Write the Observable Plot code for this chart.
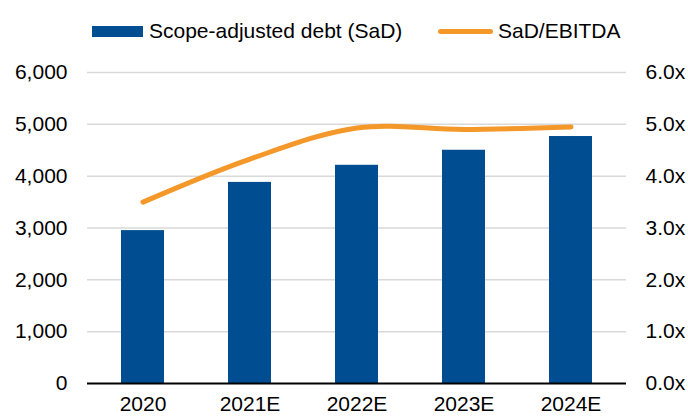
<!DOCTYPE html>
<html>
<head>
<meta charset="utf-8">
<script src="https://cdn.jsdelivr.net/npm/d3@7"></script>
<script src="https://cdn.jsdelivr.net/npm/@observablehq/plot@0.6"></script>
<style>
  body { margin: 0; background: #fff; font-family: "Liberation Sans", Arial, sans-serif; }
  #wrap { width: 688px; height: 416px; overflow: hidden; }
  #legend { position: relative; height: 52px; font-size: 21px; color: #000; }
  .sw { position: absolute; }
  .lab { position: absolute; top: 19px; line-height: 24px; white-space: nowrap; }
</style>
</head>
<body>
<div id="wrap">
  <div id="legend">
    <div class="sw" style="left:92px; top:26px; width:51px; height:11px; background:#004e91;"></div>
    <div class="lab" style="left:149px;">Scope-adjusted debt (SaD)</div>
    <div class="sw" style="left:438px; top:29px; width:55px; height:5px; border-radius:3px; background:#f4982a;"></div>
    <div class="lab" style="left:498px;">SaD/EBITDA</div>
  </div>
  <div id="chart"></div>
</div>
<script>
const years = ["2020", "2021E", "2022E", "2023E", "2024E"];
const debt = [2950, 3880, 4210, 4500, 4765];
const ratio = [3.5, 4.33, 4.93, 4.9, 4.95];
const leftTicks = [0, 1000, 2000, 3000, 4000, 5000, 6000];
const ratioScale = 1000; // 1.0x on right axis = 1,000 on left axis

const data = years.map((y, i) => ({year: y, debt: debt[i], ratio: ratio[i]}));
const grid = leftTicks.filter(t => t > 0);

const chart = Plot.plot({
  width: 688,
  height: 364,
  marginTop: 20,
  marginBottom: 33,
  marginLeft: 87,
  marginRight: 62,
  style: {fontFamily: '"Liberation Sans", Arial, sans-serif', fontSize: "21px", color: "#000", background: "#fff"},
  x: {domain: years, paddingInner: 0.6, paddingOuter: 0.3, label: null},
  y: {domain: [0, 6000], label: null},
  marks: [
    Plot.ruleY(grid, {stroke: "#d9d9d9", strokeWidth: 1.5}),
    Plot.barY(data, {x: "year", y: "debt", fill: "#004e91"}),
    Plot.ruleY([0], {stroke: "#000", strokeWidth: 2}),
    Plot.line(data, {x: "year", y: d => d.ratio * ratioScale, stroke: "#f4982a", strokeWidth: 5, strokeLinecap: "round", curve: "catmull-rom"}),
    Plot.axisX({tickSize: 0, tickPadding: 13, label: null, fontSize: 21}),
    Plot.axisY({anchor: "left", ticks: leftTicks, tickFormat: d3.format(","), tickSize: 0, tickPadding: 20, label: null, fontSize: 21}),
    Plot.axisY({anchor: "right", ticks: leftTicks, tickFormat: d => (d / ratioScale).toFixed(1) + "x", tickSize: 0, tickPadding: 19, label: null, fontSize: 21})
  ]
});
document.getElementById("chart").appendChild(chart);
</script>
</body>
</html>
